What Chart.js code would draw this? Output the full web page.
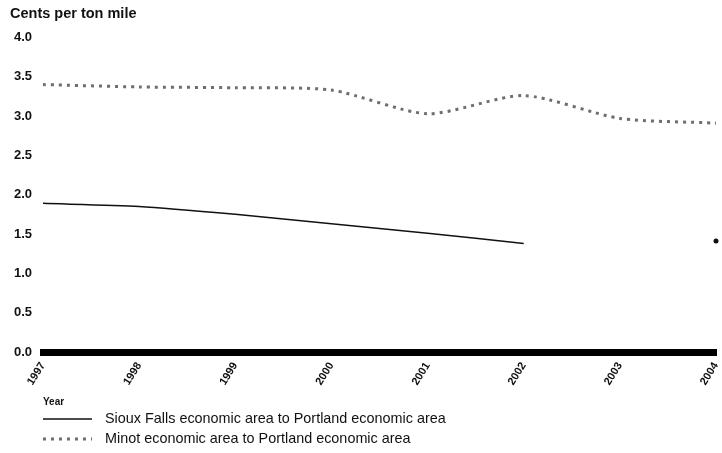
<!DOCTYPE html>
<html>
<head>
<meta charset="utf-8">
<script src="https://cdn.jsdelivr.net/npm/chart.js@4/dist/chart.umd.min.js"></script>
<style>
  html, body { margin: 0; padding: 0; background: #fff; }
  #wrap { width: 722px; height: 453px; position: relative; }
</style>
</head>
<body>
<div id="wrap"><canvas id="c" width="722" height="453"></canvas></div>
<script>
// Rail rates, cents per ton mile, by year
const years = ['1997', '1998', '1999', '2000', '2001', '2002', '2003', '2004'];
const siouxFalls = [1.89, 1.85, 1.75, 1.63, 1.51, 1.38, null, 1.41];
const minot = [3.40, 3.37, 3.36, 3.33, 3.03, 3.26, 2.97, 2.91];
const seriesNames = [
  'Sioux Falls economic area to Portland economic area',
  'Minot economic area to Portland economic area'
];
const yTickLabels = ['0.0', '0.5', '1.0', '1.5', '2.0', '2.5', '3.0', '3.5', '4.0'];

const FONT = '"Liberation Sans", Arial, sans-serif';

// Legend drawn under the axis title, one row per series
const lineLegend = {
  id: 'lineLegend',
  afterDraw(chart) {
    const ctx = chart.ctx;
    const x0 = 43;
    const rows = [419, 439];
    ctx.save();
    chart.data.datasets.forEach((ds, i) => {
      const y = rows[i];
      ctx.beginPath();
      ctx.strokeStyle = ds.borderColor;
      ctx.lineWidth = ds.borderWidth;
      ctx.setLineDash(ds.borderDash || []);
      ctx.moveTo(x0, y);
      ctx.lineTo(x0 + 49, y);
      ctx.stroke();
      ctx.setLineDash([]);
      ctx.fillStyle = '#111';
      ctx.font = '14.4px ' + FONT;
      ctx.textBaseline = 'middle';
      ctx.textAlign = 'left';
      ctx.fillText(ds.label, x0 + 62, y);
    });
    ctx.restore();
  }
};

new Chart(document.getElementById('c'), {
  type: 'line',
  data: {
    labels: years,
    datasets: [
      {
        label: seriesNames[0],
        data: siouxFalls,
        borderColor: '#111',
        backgroundColor: '#111',
        borderWidth: 1.5,
        pointRadius: [0, 0, 0, 0, 0, 0, 0, 2.5],
        pointBorderWidth: 0,
        tension: 0.25,
        spanGaps: false
      },
      {
        label: seriesNames[1],
        data: minot,
        borderColor: '#6e6e6e',
        backgroundColor: '#6e6e6e',
        borderWidth: 3,
        borderDash: [3, 5],
        pointRadius: 0,
        tension: 0.25
      }
    ]
  },
  options: {
    responsive: false,
    animation: false,
    layout: { padding: { left: 10, right: 6, top: 0, bottom: 41 } },
    plugins: {
      legend: { display: false },
      tooltip: { enabled: false },
      title: {
        display: true,
        text: 'Cents per ton mile',
        align: 'start',
        color: '#111',
        font: { family: FONT, size: 14.5, weight: 'bold' },
        padding: { top: 5, bottom: 15 }
      }
    },
    scales: {
      x: {
        offset: false,
        grid: { display: false, drawTicks: false },
        border: { display: true, width: 7, color: '#000' },
        ticks: {
          color: '#111',
          font: { family: FONT, size: 11, weight: 'bold' },
          minRotation: 58,
          maxRotation: 58,
          padding: 8,
          autoSkip: false
        },
        title: {
          display: true,
          text: 'Year',
          align: 'start',
          color: '#111',
          font: { family: FONT, size: 10, weight: 'bold' },
          padding: { top: 0, bottom: 4 }
        },
        afterFit(scale) {
          scale.height = 60;
          scale.paddingLeft = 0;
          scale.paddingRight = 0;
        }
      },
      y: {
        min: 0,
        max: 4,
        grid: { display: false, drawTicks: false },
        border: { display: false },
        ticks: {
          stepSize: 0.5,
          color: '#111',
          padding: 11,
          font: { family: FONT, size: 13, weight: 'bold' },
          callback: (v) => yTickLabels[Math.round(v * 2)]
        },
        afterFit(scale) { scale.width = 33; }
      }
    }
  },
  plugins: [lineLegend]
});
</script>
</body>
</html>
